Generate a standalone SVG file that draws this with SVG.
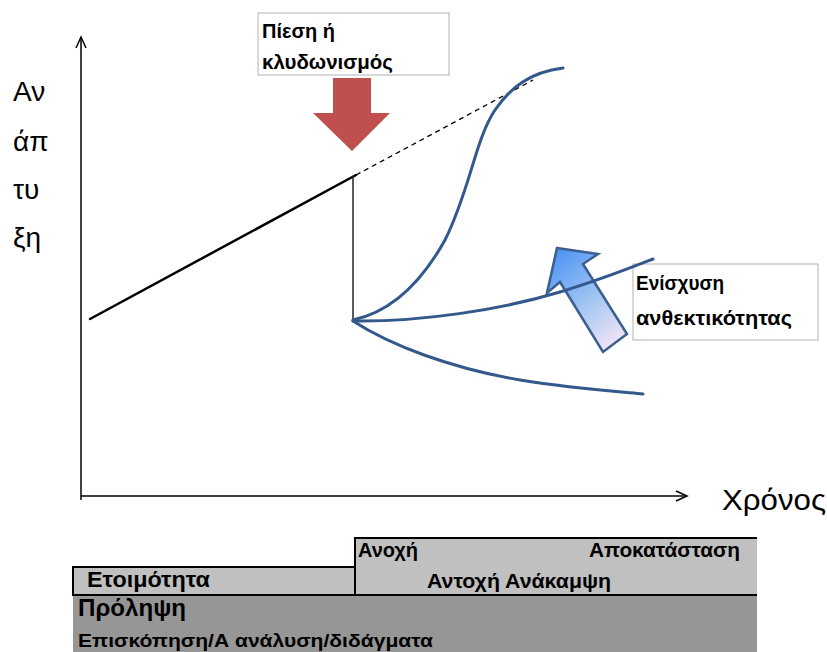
<svg xmlns="http://www.w3.org/2000/svg" width="827" height="652" viewBox="0 0 827 652">
<style>
.lbl{font-family:"Liberation Sans",Arial,sans-serif;font-weight:bold;fill:#000;}
.big{font-family:"Liberation Sans",Arial,sans-serif;fill:#000;}
.axis{stroke:#000;stroke-width:1.5;fill:none;}
.curve{stroke:#33598c;stroke-width:3;fill:none;stroke-linecap:round;}
.box{fill:#fff;stroke:#bfbfbf;stroke-width:1.2;}
</style>
<defs>
<linearGradient id="gBlue" x1="0.2" y1="0" x2="0.8" y2="1">
<stop offset="0" stop-color="#4f95f5"/>
<stop offset="0.5" stop-color="#9ec4f2"/>
<stop offset="1" stop-color="#f7e6f6"/>
</linearGradient>
</defs>
<rect width="827" height="652" fill="#fff"/>

<g id="axes">
<line class="axis" x1="81" y1="500" x2="81" y2="37"/>
<polyline class="axis" points="76,48 81,37 86,48"/>
<line class="axis" x1="81" y1="496" x2="687" y2="496"/>
<polyline class="axis" points="676,491 687,496 676,501"/>
<text class="big" x="13" y="101" font-size="28">Αν</text>
<text class="big" x="13" y="151" font-size="28">άπ</text>
<text class="big" x="13" y="199" font-size="28">τυ</text>
<text class="big" x="13" y="247" font-size="28">ξη</text>
<text class="big" x="722" y="510" font-size="29" textLength="104" lengthAdjust="spacingAndGlyphs">Χρόνος</text>
</g>

<g id="shock-box">
<rect class="box" x="258" y="13" width="191" height="62"/>
<text class="lbl" x="262" y="38" font-size="21" textLength="73" lengthAdjust="spacingAndGlyphs">Πίεση ή</text>
<text class="lbl" x="262" y="69" font-size="21" textLength="131" lengthAdjust="spacingAndGlyphs">κλυδωνισμός</text>
</g>

<g id="shock-arrow">
<polygon points="333,78 371,78 371,113 390,113 352,151 313,113 333,113" fill="#c0504d"/>
</g>

<g id="resilience-arrow">
<polygon points="557,248 598,254 583,264 627,334 603,352 560,282 547,293" fill="url(#gBlue)" stroke="#3b5f8f" stroke-width="2.5" stroke-linejoin="miter"/>
</g>

<g id="resilience-box">
<rect class="box" x="633" y="264" width="185" height="76"/>
<text class="lbl" x="636" y="290" font-size="20" textLength="88" lengthAdjust="spacingAndGlyphs">Ενίσχυση</text>
<text class="lbl" x="636" y="325" font-size="20" textLength="156" lengthAdjust="spacingAndGlyphs">ανθεκτικότητας</text>
</g>

<g id="connectors">
<line x1="90" y1="319" x2="356" y2="175" stroke="#000" stroke-width="2.5" stroke-linecap="round"/>
<line x1="353" y1="176" x2="353" y2="320" stroke="#222" stroke-width="1.5"/>
<line x1="356" y1="175" x2="533" y2="80" stroke="#000" stroke-width="1.3" stroke-dasharray="5,4"/>
<path class="curve" d="M353,320 C390,312 420,285 445,240 C470,190 475,140 495,110 C510,88 530,72 563,68" stroke="#24508a" stroke-width="3.5"/>
<path class="curve" d="M353,321 C420,322 500,310 560,292 C600,280 630,268 653,259"/>
<path class="curve" d="M353,321 C390,345 450,368 520,380 C570,388 610,391 643,394"/>
</g>

<g id="phases">
<rect x="73" y="595" width="684" height="57" fill="#969696"/>
<rect x="355" y="538" width="410" height="57" fill="#c0c0c0" stroke="#000" stroke-width="2"/>
<rect x="73" y="567" width="282" height="28" fill="#c0c0c0" stroke="#000" stroke-width="2"/>
<rect x="757" y="530" width="70" height="122" fill="#fff"/>
<text class="lbl" x="358" y="557" font-size="20" textLength="60" lengthAdjust="spacingAndGlyphs">Ανοχή</text>
<text class="lbl" x="589" y="557" font-size="20" textLength="151" lengthAdjust="spacingAndGlyphs">Αποκατάσταση</text>
<text class="lbl" x="87" y="587" font-size="22" textLength="123" lengthAdjust="spacingAndGlyphs">Ετοιμότητα</text>
<text class="lbl" x="427" y="588" font-size="21" textLength="184" lengthAdjust="spacingAndGlyphs">Αντοχή Ανάκαμψη</text>
<text class="lbl" x="78" y="616" font-size="24" textLength="108" lengthAdjust="spacingAndGlyphs">Πρόληψη</text>
<text class="lbl" x="78" y="647" font-size="18" textLength="355" lengthAdjust="spacingAndGlyphs">Επισκόπηση/Α ανάλυση/διδάγματα</text>
</g>
</svg>
